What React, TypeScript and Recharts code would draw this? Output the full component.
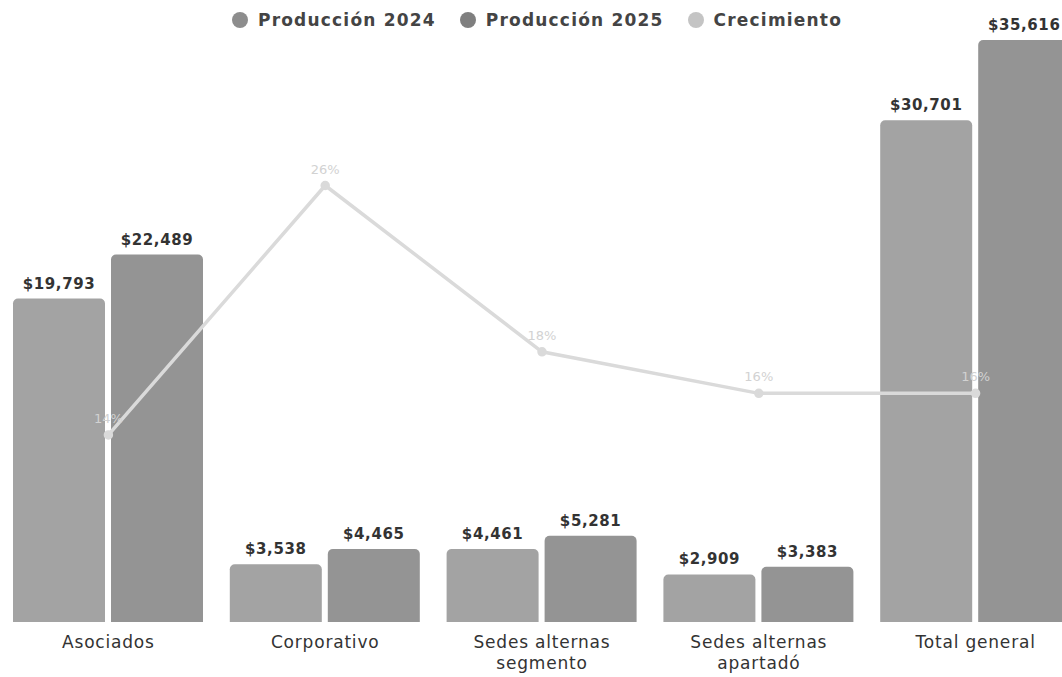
import { ComposedChart, Bar, Line, XAxis, YAxis, LabelList } from "recharts";

const categories = [
  "Asociados",
  "Corporativo",
  "Sedes alternas segmento",
  "Sedes alternas apartadó",
  "Total general",
];
const prod2024 = [19793, 3538, 4461, 2909, 30701];
const prod2025 = [22489, 4465, 5281, 3383, 35616];
const growth = [14, 26, 18, 16, 16];

const COLOR_2024 = "#a3a3a3";
const COLOR_2025 = "#949494";
const COLOR_GROWTH = "#dadada";
const FONT = "'DejaVu Sans', sans-serif";

const data = categories.map((name, i) => ({
  name,
  p2024: prod2024[i],
  p2025: prod2025[i],
  growth: growth[i],
}));

const money = (v: any) => `$${Number(v).toLocaleString("en-US")}`;
const pct = (v: any) => `${v}%`;

function CategoryTick(props: any) {
  const { x, y, payload } = props;
  const words = String(payload.value).split(" ");
  const lines =
    words.length > 2
      ? [words.slice(0, 2).join(" "), words.slice(2).join(" ")]
      : [words.join(" ")];
  return (
    <g transform={`translate(${x},${y})`}>
      {lines.map((line, i) => (
        <text
          key={i}
          x={0}
          y={0}
          dy={24 + i * 21}
          textAnchor="middle"
          fill="#333"
          fontSize={17}
          letterSpacing={0.8}
          fontFamily={FONT}
        >
          {line}
        </text>
      ))}
    </g>
  );
}

const legendItems = [
  { label: "Producción 2024", color: "#8d8d8d" },
  { label: "Producción 2025", color: "#7f7f7f" },
  { label: "Crecimiento", color: "#c4c4c4" },
];

export default function App() {
  return (
    <div
      style={{
        position: "absolute",
        left: 0,
        top: 0,
        width: 1062,
        height: 677,
        overflow: "hidden",
        background: "#fff",
      }}
    >
      <ComposedChart
        width={1084}
        height={677}
        data={data}
        margin={{ top: 40, right: 0, left: 0, bottom: 0 }}
        barCategoryGap={13}
        barGap={6}
      >
        <XAxis
          dataKey="name"
          height={55}
          axisLine={false}
          tickLine={false}
          tickSize={0}
          interval={0}
          tick={<CategoryTick />}
        />
        <YAxis yAxisId="left" hide domain={[0, "dataMax"]} />
        <YAxis yAxisId="right" hide orientation="right" domain={[5, 33]} />
        <Bar
          yAxisId="left"
          dataKey="p2024"
          fill={COLOR_2024}
          radius={[5, 5, 0, 0]}
          isAnimationActive={false}
        >
          <LabelList
            dataKey="p2024"
            position="top"
            offset={10}
            formatter={money}
            fill="#333"
            fontSize={15}
            fontWeight={600}
            letterSpacing={0.6}
            fontFamily={FONT}
          />
        </Bar>
        <Bar
          yAxisId="left"
          dataKey="p2025"
          fill={COLOR_2025}
          radius={[5, 5, 0, 0]}
          isAnimationActive={false}
        >
          <LabelList
            dataKey="p2025"
            position="top"
            offset={10}
            formatter={money}
            fill="#333"
            fontSize={15}
            fontWeight={600}
            letterSpacing={0.6}
            fontFamily={FONT}
          />
        </Bar>
        <Line
          yAxisId="right"
          dataKey="growth"
          stroke={COLOR_GROWTH}
          strokeWidth={3.5}
          dot={{ r: 3, fill: COLOR_GROWTH, stroke: COLOR_GROWTH }}
          isAnimationActive={false}
        >
          <LabelList
            dataKey="growth"
            position="top"
            offset={12}
            formatter={pct}
            fill="#d2d2d2"
            fontSize={13}
            fontFamily={FONT}
          />
        </Line>
      </ComposedChart>
      <div
        style={{
          position: "absolute",
          top: 10,
          left: 232,
          display: "flex",
          gap: 24,
          fontFamily: FONT,
          fontSize: 17,
          fontWeight: 600,
          letterSpacing: 1.2,
          color: "#444",
        }}
      >
        {legendItems.map((item) => (
          <div
            key={item.label}
            style={{ display: "flex", alignItems: "center", gap: 10 }}
          >
            <span
              style={{
                width: 16,
                height: 16,
                borderRadius: "50%",
                background: item.color,
                display: "inline-block",
              }}
            />
            <span>{item.label}</span>
          </div>
        ))}
      </div>
    </div>
  );
}
